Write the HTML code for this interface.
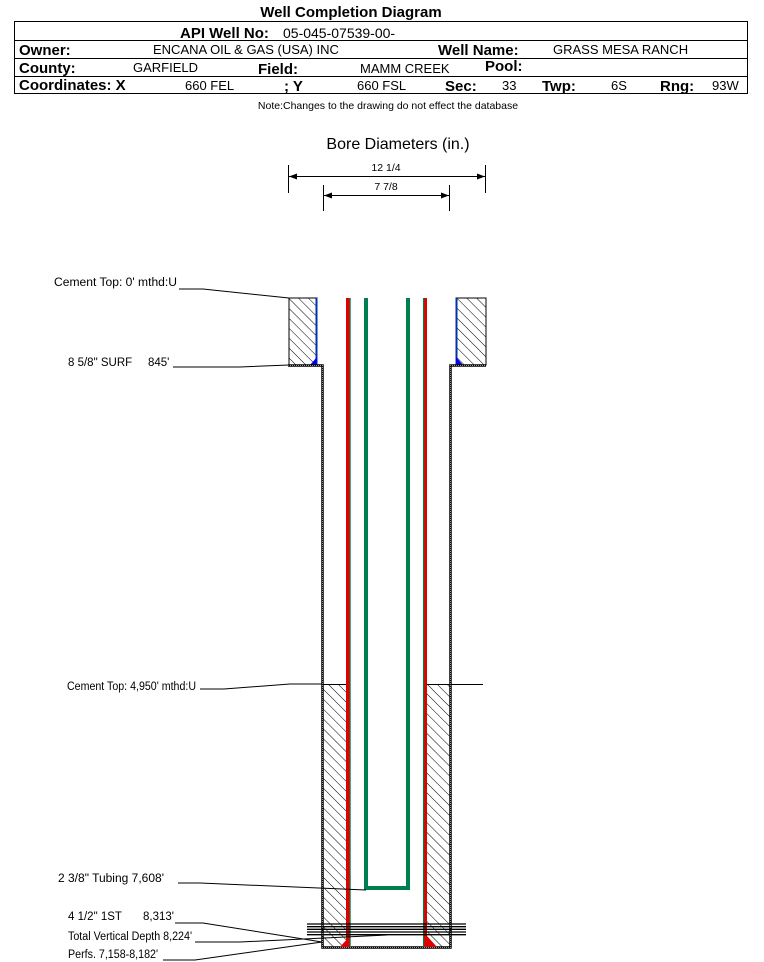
<!DOCTYPE html>
<html><head><meta charset="utf-8"><style>
body{margin:0;background:#fff;}
svg{display:block;font-family:"Liberation Sans",Arial,sans-serif;}
.b{font-weight:bold;font-size:15px;}
.v{font-size:13px;}
.s{font-size:10.5px;}
</style></head><body>
<svg width="764" height="962" viewBox="0 0 764 962" xmlns="http://www.w3.org/2000/svg">
<defs>
<pattern id="h" patternUnits="userSpaceOnUse" width="7" height="7" patternTransform="rotate(-45)">
<rect width="7" height="7" fill="#fff"/><line x1="0" y1="0" x2="0" y2="7" stroke="#000" stroke-width="1"/>
</pattern>
<marker id="a" markerWidth="8" markerHeight="6" refX="8" refY="3" orient="auto"><path d="M0,0 L8,3 L0,6 z" fill="#000"/></marker>
</defs>
<text x="351" y="17" text-anchor="middle" class="b">Well Completion Diagram</text>
<rect x="14.5" y="21.5" width="733" height="72" fill="none" stroke="#000"/>
<line x1="14" y1="40.5" x2="747" y2="40.5" stroke="#000"/>
<line x1="14" y1="58.5" x2="747" y2="58.5" stroke="#000"/>
<line x1="14" y1="76.5" x2="747" y2="76.5" stroke="#000"/>
<text x="180" y="38" class="b">API Well No:</text><text x="283" y="38" style="font-size:14px">05-045-07539-00-</text>
<text x="19" y="55" class="b">Owner:</text><text x="153" y="54" class="v">ENCANA OIL &amp; GAS (USA) INC</text>
<text x="438" y="55" class="b">Well Name:</text><text x="553" y="54" class="v">GRASS MESA RANCH</text>
<text x="19" y="73" class="b">County:</text><text x="133" y="72" class="v">GARFIELD</text>
<text x="258" y="74" class="b">Field:</text><text x="360" y="73" class="v">MAMM CREEK</text>
<text x="485" y="71" class="b">Pool:</text>
<text x="19" y="90" class="b">Coordinates: X</text><text x="185" y="90" class="v">660 FEL</text>
<text x="284" y="91" class="b">; Y</text><text x="357" y="90" class="v">660 FSL</text>
<text x="445" y="91" class="b">Sec:</text><text x="502" y="90" class="v">33</text>
<text x="542" y="91" class="b">Twp:</text><text x="611" y="90" class="v">6S</text>
<text x="660" y="91" class="b">Rng:</text><text x="712" y="90" class="v">93W</text>
<text x="388" y="109" text-anchor="middle" style="font-size:10.5px">Note:Changes to the drawing do not effect the database</text>

<text x="398" y="149" text-anchor="middle" style="font-size:16px">Bore Diameters (in.)</text>
<text x="386" y="171" text-anchor="middle" class="s">12 1/4</text>
<text x="386" y="190" text-anchor="middle" class="s">7 7/8</text>
<line x1="288.5" y1="165" x2="288.5" y2="193" stroke="#000"/>
<line x1="485.5" y1="165" x2="485.5" y2="193" stroke="#000"/>
<line x1="323.5" y1="185" x2="323.5" y2="211" stroke="#000"/>
<line x1="449.5" y1="185" x2="449.5" y2="211" stroke="#000"/>
<line x1="296" y1="176.5" x2="289" y2="176.5" stroke="#000" marker-end="url(#a)"/>
<line x1="296" y1="176.5" x2="485" y2="176.5" stroke="#000" marker-end="url(#a)"/>
<line x1="330" y1="195.5" x2="324" y2="195.5" stroke="#000" marker-end="url(#a)"/>
<line x1="330" y1="195.5" x2="449" y2="195.5" stroke="#000" marker-end="url(#a)"/>

<rect x="289" y="298" width="28" height="67" fill="url(#h)" stroke="#000"/>
<rect x="456" y="298" width="30" height="67" fill="url(#h)" stroke="#000"/>
<line x1="316.5" y1="298" x2="316.5" y2="365" stroke="#0033aa" stroke-width="2"/>
<line x1="456.5" y1="298" x2="456.5" y2="365" stroke="#0033aa" stroke-width="2"/>
<path d="M310,365 L317,357 L317,365z" fill="#0000ee"/>
<path d="M456,357 L463,365 L456,365z" fill="#0000ee"/>
<rect x="322" y="684" width="25" height="263" fill="url(#h)"/>
<rect x="427" y="684" width="23" height="263" fill="url(#h)"/>
<line x1="322" y1="684.5" x2="347" y2="684.5" stroke="#000"/>
<line x1="427" y1="684.5" x2="483" y2="684.5" stroke="#000"/>
<path d="M288,365.5 H322.5 V947.5 H450.5 V365.5 H486" fill="none" stroke="#000" stroke-width="2.5"/>
<path d="M288,365.5 H322.5 V947.5 H450.5 V365.5 H486" fill="none" stroke="#999" stroke-width="1" stroke-dasharray="1,1"/>
<rect x="346" y="298" width="4" height="649" fill="#e00000"/>
<rect x="349.5" y="298" width="1.2" height="649" fill="#008040"/>
<rect x="423" y="298" width="4" height="649" fill="#e00000"/>
<rect x="423" y="298" width="1.2" height="649" fill="#008040"/>
<path d="M366,298 V888 H408 V298" fill="none" stroke="#008050" stroke-width="4"/>
<path d="M340,947 L348,938 L348,947z" fill="#e00000"/>
<path d="M427,936 L427,947 L437,947z" fill="#e00000"/>
<g stroke="#000" stroke-width="1.3">
<line x1="307" y1="924" x2="466" y2="924"/>
<line x1="307" y1="926.7" x2="466" y2="926.7"/>
<line x1="307" y1="929.3" x2="466" y2="929.3"/>
<line x1="307" y1="932" x2="466" y2="932"/>
<line x1="307" y1="934.7" x2="466" y2="934.7"/>
</g>
<g font-size="11.5">
<text x="54" y="286" textLength="123" lengthAdjust="spacingAndGlyphs">Cement Top: 0' mthd:U</text>
<text x="68" y="366">8 5/8" SURF</text><text x="148" y="366">845'</text>
<text x="67" y="690" textLength="129" lengthAdjust="spacingAndGlyphs">Cement Top: 4,950' mthd:U</text>
<text x="58" y="882" textLength="106" lengthAdjust="spacingAndGlyphs">2 3/8" Tubing 7,608'</text>
<text x="68" y="920">4 1/2" 1ST</text><text x="143" y="920">8,313'</text>
<text x="68" y="940" textLength="124" lengthAdjust="spacingAndGlyphs">Total Vertical Depth 8,224'</text>
<text x="68" y="958" textLength="90" lengthAdjust="spacingAndGlyphs">Perfs. 7,158-8,182'</text>
</g>
<g stroke="#000" stroke-width="1" fill="none">
<path d="M179,289 H203 L289,298"/>
<path d="M173,367 H240 L289,365"/>
<path d="M200,689 H224 L290,684 H322"/>
<path d="M178,883 H200 L366,890"/>
<path d="M175,923 H203 L322,942"/>
<path d="M195,942 H240 L387,935"/>
<path d="M163,960 H195 L322,942"/>
</g>
</svg>
</body></html>
